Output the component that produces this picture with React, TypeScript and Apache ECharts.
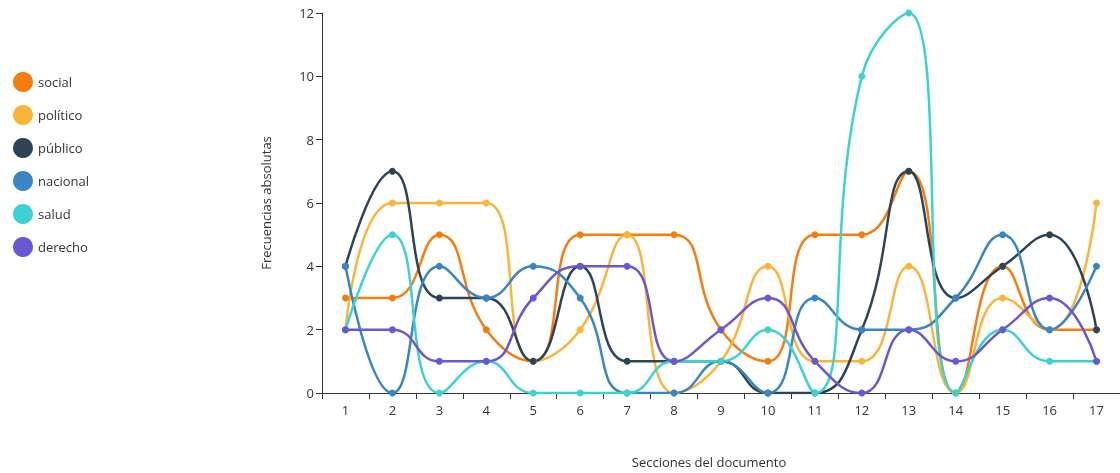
import React, { useEffect, useRef } from "react";
import * as echarts from "echarts";

const categories = ["1","2","3","4","5","6","7","8","9","10","11","12","13","14","15","16","17"];
const social =   [3,3,5,2,1,5,5,5,2,1,5,5,7,0,4,2,2];
const politico = [2,6,6,6,1,2,5,0,1,4,1,1,4,0,3,2,6];
const publico =  [4,7,3,3,1,4,1,1,1,0,0,2,7,3,4,5,2];
const nacional = [4,0,4,3,4,3,0,0,1,0,3,2,2,3,5,2,4];
const salud =    [2,5,0,1,0,0,0,1,1,2,0,10,12,0,2,1,1];
const derecho =  [2,2,1,1,3,4,4,1,2,3,1,0,2,1,2,3,1];

const seriesNames = ["social","político","público","nacional","salud","derecho"];
const seriesData = [social, politico, publico, nacional, salud, derecho];
const colors = ["#F57C0E","#FBB43A","#2C4358","#3A86C4","#3DD2D2","#6A57D2"];
const yTicks = { min: 0, max: 12, interval: 2 };

const FONT = "'Open Sans', 'Noto Sans', sans-serif";

export default function App() {
  const ref = useRef<HTMLDivElement>(null);
  useEffect(() => {
    if (!ref.current) return;
    const chart = echarts.init(ref.current, null, { renderer: "svg" });
    chart.setOption({
      animation: false,
      color: colors,
      textStyle: { fontFamily: FONT },
      legend: {
        orient: "vertical",
        left: 8,
        top: 67,
        itemWidth: 20,
        itemHeight: 20,
        itemGap: 13,
        icon: "circle",
        textStyle: { fontSize: 13, color: "#333", fontFamily: FONT },
        data: seriesNames,
      },
      grid: { left: 322, right: 0, top: 13, bottom: 77, containLabel: false },
      xAxis: {
        type: "category",
        data: categories,
        boundaryGap: true,
        name: "Secciones del documento",
        nameLocation: "middle",
        nameGap: 62,
        nameTextStyle: { fontSize: 13, color: "#333", padding: [0, 24, 0, 0] },
        axisLine: { lineStyle: { color: "#333", width: 1 } },
        axisTick: { show: true, length: 6, lineStyle: { color: "#333" } },
        axisLabel: { fontSize: 13, color: "#333", margin: 10 },
      },
      yAxis: {
        type: "value",
        min: yTicks.min,
        max: yTicks.max,
        interval: yTicks.interval,
        name: "Frecuencias absolutas",
        nameLocation: "middle",
        nameGap: 50,
        nameTextStyle: { fontSize: 13, color: "#333" },
        axisLine: { show: true, lineStyle: { color: "#333", width: 1 } },
        axisTick: { show: true, length: 6, lineStyle: { color: "#333" } },
        axisLabel: { fontSize: 13, color: "#333", margin: 8 },
        splitLine: { show: false },
      },
      series: seriesNames.map((name, i) => ({
        name,
        type: "line",
        data: seriesData[i],
        smooth: 0.5,
        symbol: "circle",
        symbolSize: 7,
        lineStyle: { width: 2.5, color: colors[i] },
        itemStyle: { color: colors[i] },
      })),
    });
    return () => chart.dispose();
  }, []);
  return (
    <div
      ref={ref}
      style={{ position: "fixed", left: 0, top: 0, width: 1120, height: 473 }}
    />
  );
}
